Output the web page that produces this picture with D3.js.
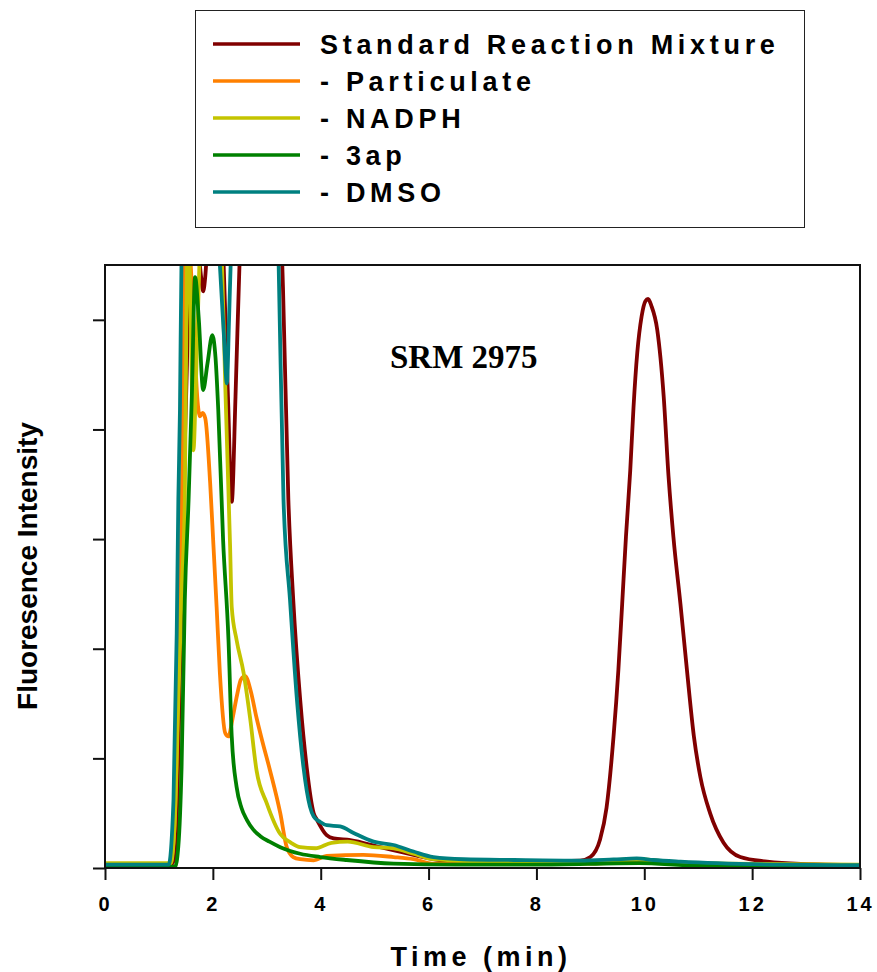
<!DOCTYPE html>
<html>
<head>
<meta charset="utf-8">
<script src="https://cdn.jsdelivr.net/npm/d3@7"></script>
<style>
  html, body { margin: 0; padding: 0; background: #fff; }
  svg { display: block; }
</style>
</head>
<body>
<svg id="chart" width="877" height="972"></svg>
<script>
// Chromatogram traces: retention time (min) and fluorescence intensity (arbitrary units)
const seriesNames = ["Standard Reaction Mixture", "- Particulate", "- NADPH", "- 3ap", "- DMSO"];
const seriesColors = ["#800000", "#ff8000", "#c4c400", "#008000", "#008080"];

const srmTime   = [0, 1.2, 1.3, 1.38, 1.45, 1.52, 1.56, 1.65, 1.74, 1.78, 1.82, 1.86, 1.9, 2.0, 2.12, 2.2, 2.28, 2.35, 2.42, 2.5, 2.6, 2.9, 3.2, 3.3, 3.40, 3.49, 3.62, 3.74, 3.87, 3.93, 4.11, 4.24, 4.55, 5.10, 5.72, 6.2, 6.96, 8.0, 8.81, 9.0, 9.18, 9.3, 9.43, 9.52, 9.59, 9.66, 9.74, 9.80, 9.87, 9.95, 10.02, 10.07, 10.13, 10.24, 10.36, 10.45, 10.54, 10.67, 10.79, 10.92, 11.04, 11.22, 11.47, 11.78, 12.28, 12.9, 14];
const srmSignal = [0.025, 0.025, 0.1, 1.5, 3.3, 4.6, 5.6, 6.3, 5.6, 5.4, 5.26, 5.4, 5.7, 6.4, 6.2, 5.5, 4.3, 3.34, 4.3, 5.6, 6.5, 7, 6.5, 5.3, 3.36, 2.45, 1.53, 0.92, 0.5, 0.44, 0.3, 0.27, 0.255, 0.19, 0.12, 0.073, 0.058, 0.06, 0.067, 0.10, 0.26, 0.55, 1.20, 1.81, 2.41, 3.02, 3.63, 4.2, 4.7, 5.03, 5.17, 5.19, 5.13, 4.91, 4.30, 3.57, 3.02, 2.41, 1.81, 1.20, 0.83, 0.50, 0.23, 0.10, 0.058, 0.037, 0.027];

const partTime   = [0, 1.2, 1.28, 1.35, 1.41, 1.45, 1.48, 1.53, 1.59, 1.65, 1.71, 1.76, 1.81, 1.86, 1.95, 2.01, 2.07, 2.13, 2.23, 2.29, 2.36, 2.45, 2.52, 2.6, 2.7, 2.81, 2.91, 3.06, 3.25, 3.37, 3.49, 3.62, 3.87, 4.11, 4.79, 5.35, 5.72, 6.09, 7.0, 8.0, 9.0, 9.9, 10.6, 11.5, 14];
const partSignal = [0.035, 0.035, 0.3, 1.5, 3.0, 4.18, 5.5, 6.0, 5.5, 4.9, 4.3, 4.12, 4.15, 4.1, 3.51, 2.95, 2.38, 1.78, 1.23, 1.20, 1.35, 1.58, 1.72, 1.75, 1.62, 1.37, 1.17, 0.89, 0.50, 0.19, 0.10, 0.08, 0.07, 0.11, 0.12, 0.10, 0.08, 0.04, 0.035, 0.04, 0.04, 0.06, 0.04, 0.03, 0.02];

const nadphTime   = [0, 1.22, 1.30, 1.36, 1.42, 1.48, 1.52, 1.55, 1.59, 1.64, 1.69, 1.75, 1.85, 2.0, 2.12, 2.17, 2.23, 2.32, 2.35, 2.44, 2.57, 2.69, 2.81, 3.0, 3.25, 3.45, 3.62, 3.9, 4.2, 4.5, 4.98, 5.35, 5.72, 6.09, 7.0, 8.0, 9.0, 9.9, 10.6, 11.5, 14];
const nadphSignal = [0.045, 0.045, 0.5, 1.53, 2.5, 3.36, 5.5, 5.8, 5.0, 3.81, 4.5, 5.5, 6.5, 6.5, 6.0, 5.5, 4.4, 2.93, 2.38, 2.08, 1.78, 1.37, 0.89, 0.59, 0.31, 0.23, 0.19, 0.18, 0.23, 0.24, 0.19, 0.18, 0.13, 0.08, 0.06, 0.06, 0.06, 0.08, 0.05, 0.04, 0.03];

const apTime   = [0, 1.3, 1.36, 1.42, 1.48, 1.55, 1.61, 1.67, 1.74, 1.82, 1.9, 1.99, 2.05, 2.10, 2.19, 2.29, 2.35, 2.44, 2.53, 2.63, 2.75, 2.88, 3.05, 3.25, 3.62, 3.99, 4.48, 5.35, 6.5, 8, 9.9, 11, 14];
const apSignal = [0.012, 0.012, 0.2, 0.92, 2.45, 3.36, 4.3, 5.39, 5.0, 4.36, 4.6, 4.86, 4.65, 4.18, 2.99, 2.08, 1.2, 0.74, 0.55, 0.44, 0.35, 0.29, 0.24, 0.19, 0.13, 0.10, 0.073, 0.04, 0.03, 0.03, 0.045, 0.02, 0.015];

const dmsoTime   = [0, 1.18, 1.27, 1.33, 1.36, 1.39, 1.42, 1.6, 1.9, 2.08, 2.13, 2.2, 2.26, 2.30, 2.33, 2.5, 3.0, 3.17, 3.22, 3.31, 3.43, 3.56, 3.68, 3.80, 3.87, 3.99, 4.11, 4.36, 4.61, 4.98, 5.35, 5.72, 6.09, 6.65, 7.58, 8.81, 9.43, 9.86, 10.17, 10.67, 12.6, 14];
const dmsoSignal = [0.03, 0.03, 0.62, 2.14, 3.36, 4.18, 5.6, 7, 7, 6, 5.5, 4.9, 4.42, 5.0, 5.5, 6.5, 7, 6.5, 5.5, 3.36, 2.45, 1.53, 0.92, 0.56, 0.47, 0.42, 0.39, 0.38, 0.32, 0.24, 0.21, 0.15, 0.10, 0.08, 0.073, 0.067, 0.078, 0.087, 0.073, 0.058, 0.03, 0.025];

const xTicks = [0, 2, 4, 6, 8, 10, 12, 14];
const yTicks = [0, 1, 2, 3, 4, 5];

const traces = [
  { t: srmTime,   v: srmSignal },
  { t: partTime,  v: partSignal },
  { t: nadphTime, v: nadphSignal },
  { t: apTime,    v: apSignal },
  { t: dmsoTime,  v: dmsoSignal }
].map((s, i) => ({ name: seriesNames[i], color: seriesColors[i], points: s.t.map((t, j) => [t, s.v[j]]) }));

const svg = d3.select("#chart");
const plot = { left: 105, right: 860, top: 265, bottom: 868 };

const x = d3.scaleLinear().domain([0, 14]).range([plot.left, plot.right]);
const y = d3.scaleLinear().domain([0, 5.5]).range([plot.bottom, plot.top]);

svg.append("defs").append("clipPath").attr("id", "plot-clip")
  .append("rect")
  .attr("x", plot.left).attr("y", plot.top)
  .attr("width", plot.right - plot.left).attr("height", plot.bottom - plot.top);

// Traces
const line = d3.line()
  .x(d => x(d[0]))
  .y(d => y(d[1]))
  .curve(d3.curveMonotoneX);

const traceLayer = svg.append("g").attr("clip-path", "url(#plot-clip)");
traceLayer.selectAll("path")
  .data(traces)
  .join("path")
  .attr("d", d => line(d.points))
  .attr("fill", "none")
  .attr("stroke", d => d.color)
  .attr("stroke-width", 3.8)
  .attr("stroke-linejoin", "round");

// Frame
svg.append("rect")
  .attr("x", plot.left).attr("y", plot.top)
  .attr("width", plot.right - plot.left).attr("height", plot.bottom - plot.top)
  .attr("fill", "none").attr("stroke", "#111").attr("stroke-width", 2);

// Axes
const xAxis = svg.append("g")
  .attr("transform", `translate(0,${plot.bottom})`)
  .call(d3.axisBottom(x).tickValues(xTicks).tickSize(12).tickPadding(17).tickFormat(d3.format("d")));
xAxis.select(".domain").remove();
xAxis.selectAll(".tick line").attr("stroke", "#111").attr("stroke-width", 2);
xAxis.selectAll(".tick text")
  .attr("fill", "#000")
  .style("font-family", "'Liberation Sans', Arial, sans-serif")
  .style("font-weight", "bold")
  .style("font-size", "20px")
  .style("letter-spacing", "3px");

const yAxis = svg.append("g")
  .attr("transform", `translate(${plot.left},0)`)
  .call(d3.axisLeft(y).tickValues(yTicks).tickSize(12).tickFormat(""));
yAxis.select(".domain").remove();
yAxis.selectAll(".tick line").attr("stroke", "#111").attr("stroke-width", 2);

// Axis titles
svg.append("text")
  .attr("x", 481)
  .attr("y", 966)
  .attr("text-anchor", "middle")
  .style("font-family", "'Liberation Sans', Arial, sans-serif")
  .style("font-weight", "bold")
  .style("font-size", "27px")
  .style("letter-spacing", "4.5px")
  .text("Time (min)");

svg.append("text")
  .attr("transform", `translate(37,566) rotate(-90)`)
  .attr("text-anchor", "middle")
  .style("font-family", "'Liberation Sans', Arial, sans-serif")
  .style("font-weight", "bold")
  .style("font-size", "28px")
  .text("Fluoresence Intensity");

// Sample label
svg.append("text")
  .attr("x", 390)
  .attr("y", 368)
  .style("font-family", "'Liberation Serif', 'Times New Roman', serif")
  .style("font-weight", "bold")
  .style("font-size", "33px")
  .text("SRM 2975");

// Legend
const legend = svg.append("g");
legend.append("rect")
  .attr("x", 195.5).attr("y", 10.5).attr("width", 609).attr("height", 217)
  .attr("fill", "#fff").attr("stroke", "#222").attr("stroke-width", 1);

const rowY = d3.scalePoint().domain(seriesNames).range([44, 192]);
const rows = legend.selectAll("g.row").data(traces).join("g").attr("class", "row")
  .attr("transform", d => `translate(0,${rowY(d.name)})`);
rows.append("line")
  .attr("x1", 213).attr("x2", 300)
  .attr("stroke", d => d.color).attr("stroke-width", 3.5);
rows.append("text")
  .attr("x", 320).attr("dy", "0.36em")
  .style("font-family", "'Liberation Sans', Arial, sans-serif")
  .style("font-weight", "bold")
  .style("font-size", "27px")
  .style("letter-spacing", "4.7px")
  .text(d => d.name);
</script>
</body>
</html>
